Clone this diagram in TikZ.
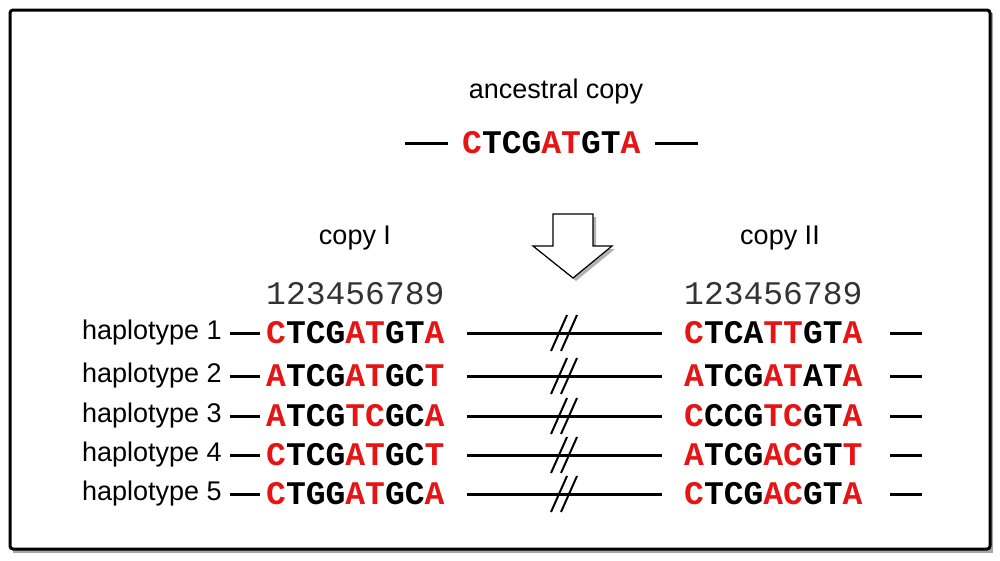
\documentclass[tikz,border=0pt]{standalone}
\usepackage{fontspec}
\setmainfont{Liberation Sans}
\newfontfamily\seqfont{Liberation Mono}
\definecolor{myred}{RGB}{230,20,20}
\newcommand{\R}[1]{\textcolor{myred}{#1}}
\newcommand{\sq}[5]{\R{#1}#2\R{#3}#4\R{#5}}
\begin{document}
\begin{tikzpicture}[x=1pt,y=-1pt,
  seqtxt/.style={font=\seqfont\bfseries\fontsize{33}{33}\selectfont,anchor=west,inner sep=0},
  numtxt/.style={font=\seqfont\fontsize{33}{33}\selectfont,text=black!80,anchor=west,inner sep=0},
  lab/.style={font=\fontsize{27}{27}\selectfont,inner sep=0},
  ln/.style={line width=3pt}]
\useasboundingbox (0,0) rectangle (1000,560);
\fill[black!35] (13,13) rectangle (993,553);
\draw[line width=3pt,fill=white,rounded corners=3pt] (10,10) rectangle (990,549);
\node[lab] (anc) at (556,92) {ancestral copy};
\node[seqtxt] (aseq) at (462,143) {\sq{C}{TCG}{AT}{GT}{A}};
\coordinate (a1) at (405,143); \coordinate (a2) at (448,143);
\coordinate (a3) at (655,143); \coordinate (a4) at (698,143);
\draw[ln] (a1) -- (a2); \draw[ln] (a3) -- (a4);
\node[lab] (c1) at (355,238) {copy I};
\node[lab] (c2) at (780,238) {copy II};
\fill[black!30] (556,217) -- (596,217) -- (596,249) -- (615,249) -- (576,281) -- (536,249) -- (556,249) -- cycle;
\draw[line width=1.2pt,fill=white] (553,214) -- (593,214) -- (593,246) -- (612,246) -- (573,278) -- (533,246) -- (553,246) -- cycle;
\node[numtxt] (n1) at (266,294) {123456789};
\node[numtxt] (n2) at (684,294) {123456789};
\foreach \y/\k/\L/\Rr in {
 333/1/{\sq{C}{TCG}{AT}{GT}{A}}/{\sq{C}{TCA}{TT}{GT}{A}},
 376/2/{\sq{A}{TCG}{AT}{GC}{T}}/{\sq{A}{TCG}{AT}{AT}{A}},
 416/3/{\sq{A}{TCG}{TC}{GC}{A}}/{\sq{C}{CCG}{TC}{GT}{A}},
 455/4/{\sq{C}{TCG}{AT}{GC}{T}}/{\sq{A}{TCG}{AC}{GT}{T}},
 494/5/{\sq{C}{TGG}{AT}{GC}{A}}/{\sq{C}{TCG}{AC}{GT}{A}}}{
  \node[lab,anchor=east] (h\k) at (222,\y) {haplotype \k};
  \node[seqtxt] (l\k) at (266,\y) {\L};
  \node[seqtxt] (r\k) at (684,\y) {\Rr};
  \draw[ln] (230,\y) -- (260,\y);
  \draw[ln] (467,\y) -- (662,\y);
  \draw[ln] (890,\y) -- (922,\y);
  \draw[line width=2pt] (551,\y+18) -- (567,\y-18);
  \draw[line width=2pt] (561,\y+18) -- (577,\y-18);
}
\end{tikzpicture}
\end{document}
